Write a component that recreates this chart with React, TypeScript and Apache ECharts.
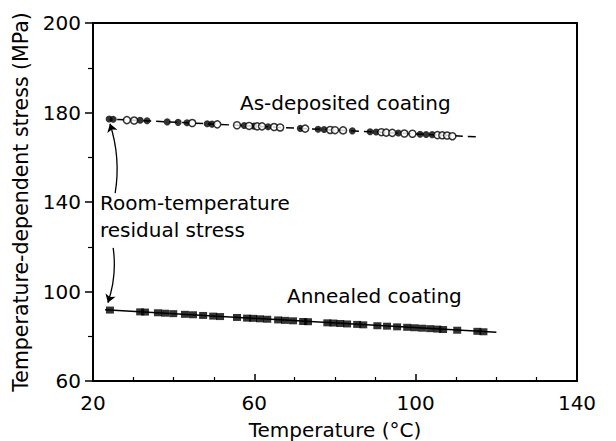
import React, { useEffect, useRef } from "react";
import * as echarts from "echarts";

// As-deposited coating (filled circles)
const asFilledT = [24.0, 25.0, 31.7, 33.4, 38.4, 41.1, 43.3, 48.3, 49.5, 57.5, 59.9, 63.4, 71.4, 75.8, 77.3, 84.3, 88.7, 90.2, 95.7, 101.1, 102.6, 104.1];
const asFilledV = [177.1, 177.0, 176.5, 176.3, 175.8, 175.6, 175.4, 175.0, 174.8, 174.2, 173.9, 173.6, 172.9, 172.5, 172.4, 171.8, 171.4, 171.3, 170.8, 170.3, 170.2, 170.1];
// As-deposited coating (open circles)
const asOpenT = [28.4, 30.2, 44.6, 50.8, 55.7, 58.7, 60.7, 61.9, 64.9, 66.4, 72.6, 78.8, 80.0, 82.0, 91.5, 92.7, 94.2, 97.2, 99.2, 105.4, 106.6, 107.8, 109.1];
const asOpenV = [176.6, 176.4, 175.3, 174.7, 174.3, 174.0, 173.8, 173.8, 173.5, 173.3, 172.8, 172.2, 172.1, 172.0, 171.2, 171.0, 170.9, 170.6, 170.5, 169.9, 169.8, 169.7, 169.4];
// Annealed coating (filled squares)
const annT = [24.2, 31.7, 32.9, 36.1, 37.9, 39.9, 42.8, 44.8, 47.3, 49.8, 51.5, 55.7, 58.2, 59.7, 61.4, 63.2, 65.9, 67.6, 69.6, 72.1, 73.3, 78.1, 79.6, 81.3, 83.0, 85.5, 87.0, 90.5, 92.9, 95.4, 97.9, 99.7, 101.6, 103.6, 105.4, 106.8, 110.3, 115.3, 116.8];
const annV = [91.7, 90.9, 90.8, 90.5, 90.3, 90.1, 89.8, 89.6, 89.3, 89.0, 88.8, 88.4, 88.1, 88.0, 87.8, 87.6, 87.3, 87.1, 86.9, 86.6, 86.5, 86.0, 85.9, 85.7, 85.5, 85.3, 85.1, 84.7, 84.5, 84.2, 84.0, 83.8, 83.6, 83.4, 83.2, 83.0, 82.7, 82.2, 82.0];
// Fitted lines
const asFitT = [26, 115];
const asFitV = [176.9, 169.1];
const annFitT = [23, 120];
const annFitV = [91.8, 81.8];
// Arrows (tail -> tip), data coordinates
const arrowUp = [[25.5, 144], [24.2, 175]];
const arrowDown = [[25.0, 119.5], [23.7, 95]];
// Axis ticks
const xTicks = [20, 60, 100, 140];
const yTicks = [60, 100, 140, 180, 220];
const yTickLabels = ["60", "100", "140", "180", "200"];

const FONT = "DejaVu Sans";

const zip = (a: number[], b: number[]) => a.map((v, i) => [v, b[i]]);

export default function App() {
  const ref = useRef<HTMLDivElement>(null);
  useEffect(() => {
    if (!ref.current) return;
    const chart = echarts.init(ref.current, null, { renderer: "svg" });
    chart.setOption({
      animation: false,
      backgroundColor: "#fff",
      grid: {
        left: 93,
        top: 23,
        right: 39,
        bottom: 60,
        containLabel: false,
        outerBoundsMode: "none",
        show: true,
        borderColor: "#000",
        borderWidth: 2,
      },
      xAxis: {
        type: "value",
        min: xTicks[0],
        max: xTicks[xTicks.length - 1],
        interval: 40,
        name: "Temperature (°C)",
        nameLocation: "middle",
        nameGap: 39,
        nameTextStyle: { fontFamily: FONT, fontSize: 20, color: "#000" },
        axisLine: { show: true, onZero: false, lineStyle: { color: "#000", width: 2 } },
        axisTick: { show: true, inside: true, length: 7, lineStyle: { color: "#000", width: 1.5 } },
        minorTick: { show: true, splitNumber: 4, length: 4, lineStyle: { color: "#000", width: 1.2 } },
        axisLabel: { fontFamily: FONT, fontSize: 20, color: "#000", margin: 12 },
        splitLine: { show: false },
      },
      yAxis: {
        type: "value",
        min: yTicks[0],
        max: yTicks[yTicks.length - 1],
        interval: 40,
        name: "Temperature-dependent stress (MPa)",
        nameLocation: "middle",
        nameRotate: 90,
        nameGap: 62,
        nameTextStyle: { fontFamily: FONT, fontSize: 20.5, color: "#000" },
        axisLine: { show: true, onZero: false, lineStyle: { color: "#000", width: 2 } },
        axisTick: { show: true, inside: false, length: 8, lineStyle: { color: "#000", width: 1.5 } },
        minorTick: { show: true, splitNumber: 2, length: 5, lineStyle: { color: "#000", width: 1.2 } },
        axisLabel: {
          fontFamily: FONT,
          fontSize: 20,
          color: "#000",
          margin: 12,
          formatter: (v: number) => {
            const i = yTicks.indexOf(v);
            return i >= 0 ? yTickLabels[i] : String(v);
          },
        },
        splitLine: { show: false },
      },
      graphic: [
        { type: "text", left: 240, top: 93, style: { text: "As-deposited coating", font: `20px '${FONT}'`, fill: "#000" } },
        { type: "text", left: 100, top: 193, style: { text: "Room-temperature", font: `20px '${FONT}'`, fill: "#000" } },
        { type: "text", left: 100, top: 220, style: { text: "residual stress", font: `20px '${FONT}'`, fill: "#000" } },
        { type: "text", left: 287, top: 286, style: { text: "Annealed coating", font: `20px '${FONT}'`, fill: "#000" } },
      ],
      series: [
        {
          type: "line",
          data: zip(asFitT, asFitV),
          symbol: "none",
          lineStyle: { color: "#000", width: 1.5, type: [8, 5] },
          z: 1,
        },
        {
          type: "line",
          data: zip(annFitT, annFitV),
          symbol: "none",
          lineStyle: { color: "#000", width: 1.5 },
          z: 1,
        },
        {
          type: "scatter",
          data: zip(asFilledT, asFilledV),
          symbol: "circle",
          symbolSize: 7,
          itemStyle: { color: "#000" },
          z: 3,
        },
        {
          type: "scatter",
          data: zip(asOpenT, asOpenV),
          symbol: "circle",
          symbolSize: 7,
          itemStyle: { color: "#fff", borderColor: "#000", borderWidth: 1.5 },
          z: 3,
        },
        {
          type: "scatter",
          data: zip(annT, annV),
          symbol: "rect",
          symbolSize: [8, 7],
          itemStyle: { color: "#000" },
          z: 3,
        },
        {
          type: "lines",
          coordinateSystem: "cartesian2d",
          symbol: ["none", "arrow"],
          symbolSize: 8,
          lineStyle: { color: "#000", width: 1.3, opacity: 1, curveness: -0.12 },
          data: [{ coords: arrowUp }, { coords: arrowDown, lineStyle: { curveness: 0.12 } }],
          z: 4,
        },
      ],
    });
    return () => chart.dispose();
  }, []);
  return (
    <div
      ref={ref}
      style={{ position: "fixed", left: 0, top: 0, width: 616, height: 441 }}
    />
  );
}
